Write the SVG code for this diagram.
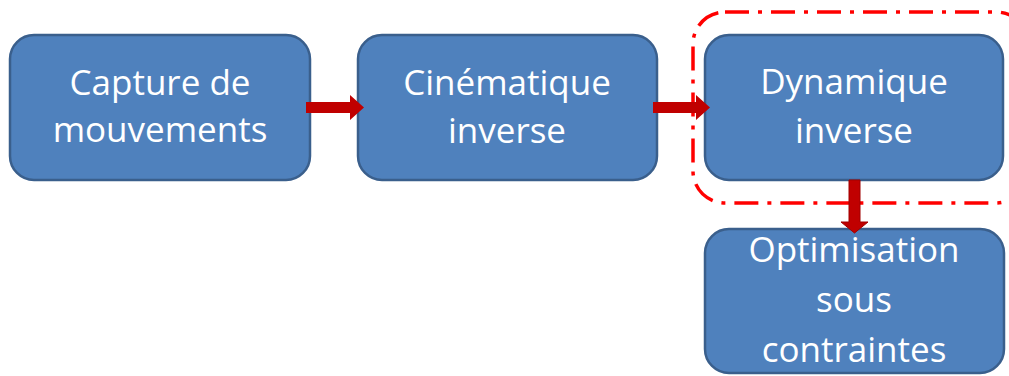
<svg xmlns="http://www.w3.org/2000/svg" width="1009" height="376" viewBox="0 0 1009 376">
<style>
.box{fill:#4F81BD;stroke:#3A5F8C;stroke-width:2.5}
.t{font-family:"Open Sans","Liberation Sans",sans-serif;font-size:35px;fill:#fff;text-anchor:middle}
.arr{fill:#C00000}
.frame{fill:none;stroke:#FF0000;stroke-width:3.5;stroke-dasharray:24 9 4 9}
</style>
<rect width="1009" height="376" fill="#fff"/>
<g id="frame"><rect class="frame" x="693" y="12" width="335" height="191" rx="32"/></g>
<g id="n1"><rect class="box" x="10" y="35" width="300" height="145" rx="24"/><text class="t" x="160" y="95">Capture de</text><text class="t" x="160" y="142">mouvements</text></g>
<g id="n2"><rect class="box" x="358" y="35" width="299" height="145" rx="24"/><text class="t" x="507" y="95">Cinématique</text><text class="t" x="507" y="143">inverse</text></g>
<g id="n3"><rect class="box" x="705" y="35" width="298" height="145" rx="24"/><text class="t" x="854" y="94">Dynamique</text><text class="t" x="854" y="143">inverse</text></g>
<g id="n4"><rect class="box" x="705" y="229" width="299" height="144" rx="24"/><text class="t" x="854" y="262">Optimisation</text><text class="t" x="854" y="312">sous</text><text class="t" x="854" y="362">contraintes</text></g>
<g id="connectors">
<polygon class="arr" points="306,102 350,102 350,95 364,107.5 350,120 350,113 306,113"/>
<polygon class="arr" points="653,102 696,102 696,95 710,107.5 696,120 696,113 653,113"/>
<polygon class="arr" stroke="#A00000" stroke-width="1" points="849,180 860,180 860,222 868,222 854.5,233 841,222 849,222"/>
</g>
</svg>
